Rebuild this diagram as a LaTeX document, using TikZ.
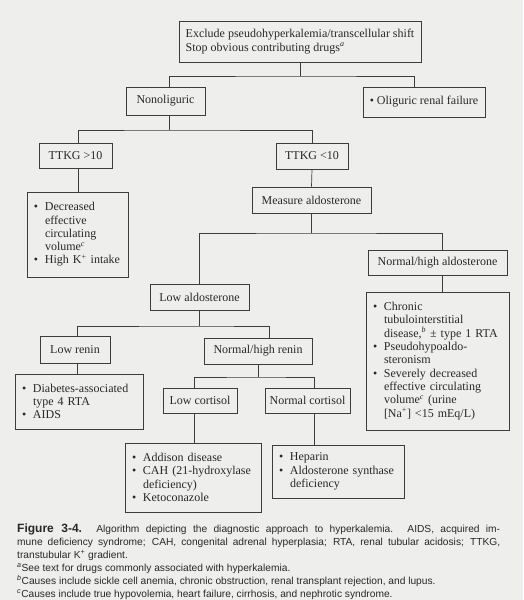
\documentclass[tikz,border=0pt]{standalone}
\usepackage{fontspec}
\setmainfont{Liberation Serif}
\newfontfamily\capfont{Liberation Sans}
\definecolor{paper}{RGB}{238,238,236}
\definecolor{ink}{RGB}{40,40,40}
\definecolor{linec}{RGB}{60,60,60}
\tikzset{
  box/.style={draw=linec, line width=0.7pt, text=ink, font=\fontsize{12}{13.3}\selectfont, inner sep=0pt, align=center},
  lbox/.style={box, align=left, inner xsep=7pt},
  conn/.style={draw=linec, line width=0.7pt},
}
\newcommand\bu{\makebox[11pt][l]{•}}
\newcommand\ind{\hspace*{11pt}}
\newcommand\fn[1]{\textsuperscript{\itshape #1}}
\begin{document}
\begin{tikzpicture}[x=1pt,y=-1pt]
\fill[paper] (0,0) rectangle (523,600);
\useasboundingbox (0,0) rectangle (523,600);
% coordinates for stems and junctions
\coordinate (j1) at (300,76);
\coordinate (j2) at (169,130);
\coordinate (ox) at (414,0);
\coordinate (dx) at (78,0);
\coordinate (h3) at (0,233);
\coordinate (nx) at (442,0);
\coordinate (h4) at (0,326);
\coordinate (lrx) at (77,0);
\coordinate (nrx) at (269,0);
\coordinate (h5) at (0,377);
\coordinate (lcx) at (194,0);
\coordinate (ncx) at (314,0);
% nodes
\node[box, align=left, minimum width=242pt, minimum height=41pt] (top) at (300,41.5) {Exclude pseudohyperkalemia/transcellular shift\\Stop obvious contributing drugs\fn{a}};
\node[box, minimum width=79pt, minimum height=28pt] (nonolig) at (165.5,101) {Nonoliguric};
\node[box, minimum width=122pt, minimum height=30pt] (olig) at (424,102) {• Oliguric renal failure};
\node[box, minimum width=73pt, minimum height=25pt] (tg) at (75.5,155.5) {TTKG >10};
\node[box, minimum width=72pt, minimum height=26pt] (tl) at (312,156) {TTKG <10};
\node[lbox, text width=87pt, minimum height=85pt] (dec) at (77.5,234.5) {\bu Decreased\\\ind effective\\\ind circulating\\\ind volume\fn{c}\\\bu High K\textsuperscript{+} intake};
\node[box, minimum width=119pt, minimum height=26pt] (meas) at (311.5,200) {Measure aldosterone};
\node[box, minimum width=139pt, minimum height=25pt] (nha) at (437.5,262.5) {Normal/high aldosterone};
\node[box, minimum width=99pt, minimum height=26pt] (la) at (199.5,297) {Low aldosterone};
\node[lbox, text width=129pt, minimum height=138pt] (chr) at (437.5,361) {\bu Chronic\\\ind tubulointerstitial\\\ind disease,\fn{b} ± type 1 RTA\\\bu Pseudohypoaldo-\\\ind steronism\\\bu Severely decreased\\\ind effective circulating\\\ind volume\fn{c} (urine\\\ind [Na\textsuperscript{+}] <15 mEq/L)};
\node[box, minimum width=70pt, minimum height=27pt] (lr) at (75,349.5) {Low renin};
\node[box, minimum width=108pt, minimum height=26pt] (nhr) at (258,351) {Normal/high renin};
\node[lbox, text width=114pt, minimum height=55pt] (dia) at (79,401.5) {\bu Diabetes-associated\\\ind type 4 RTA\\\bu AIDS};
\node[box, minimum width=74pt, minimum height=25pt] (lc) at (200,400.5) {Low cortisol};
\node[box, minimum width=85pt, minimum height=25pt] (nc) at (307.5,400.5) {Normal cortisol};
\node[lbox, text width=122pt, minimum height=69pt] (add) at (193,477.5) {\bu Addison disease\\\bu CAH (21-hydroxylase\\\ind deficiency)\\\bu Ketoconazole};
\node[lbox, text width=118pt, minimum height=53pt] (hep) at (338,471.5) {\bu Heparin\\\bu Aldosterone synthase\\\ind deficiency};
% connectors
\draw[conn] (top.south) -- (j1);
\draw[conn] (nonolig.north -| j2) |- (j1) -| (olig.north -| ox);
\draw[conn] (nonolig.south -| j2) -- (j2);
\draw[conn] (tg.north -| dx) |- (j2) -| (tl.north);
\draw[conn] (tg.south -| dx) -- (dec.north -| dx);
\draw[conn] (tl.south) -- (meas.north);
\draw[conn] (meas.south) -- (meas.south |- h3);
\draw[conn] (la.north) |- (meas.south |- h3) -| (nha.north -| nx);
\draw[conn] (nha.south -| nx) -- (chr.north -| nx);
\draw[conn] (la.south) -- (la.south |- h4);
\draw[conn] (lr.north -| lrx) |- (la.south |- h4) -| (nhr.north -| nrx);
\draw[conn] (lr.south -| lrx) -- (dia.north -| lrx);
\draw[conn] (nhr.south) -- (nhr.south |- h5);
\draw[conn] (lc.north -| lcx) |- (nhr.south |- h5) -| (nc.north -| ncx);
\draw[conn] (lc.south -| lcx) -- (add.north -| lcx);
\draw[conn] (nc.south -| ncx) -- (hep.north -| ncx);
% caption
\node[anchor=north west, inner sep=0pt, text width=483pt, align=justify, text=ink, font=\capfont\fontsize{10.2}{13}\selectfont] (cap) at (17,523.5) {{\bfseries\fontsize{12}{13}\selectfont Figure 3-4.} Algorithm depicting the diagnostic approach to hyperkalemia. AIDS, acquired im-\linebreak mune deficiency syndrome; CAH, congenital adrenal hyperplasia; RTA, renal tubular acidosis; TTKG,\linebreak transtubular K\textsuperscript{+} gradient.\\
\textsuperscript{\itshape a}See text for drugs commonly associated with hyperkalemia.\\
\textsuperscript{\itshape b}Causes include sickle cell anemia, chronic obstruction, renal transplant rejection, and lupus.\\
\textsuperscript{\itshape c}Causes include true hypovolemia, heart failure, cirrhosis, and nephrotic syndrome.};
\end{tikzpicture}
\end{document}
